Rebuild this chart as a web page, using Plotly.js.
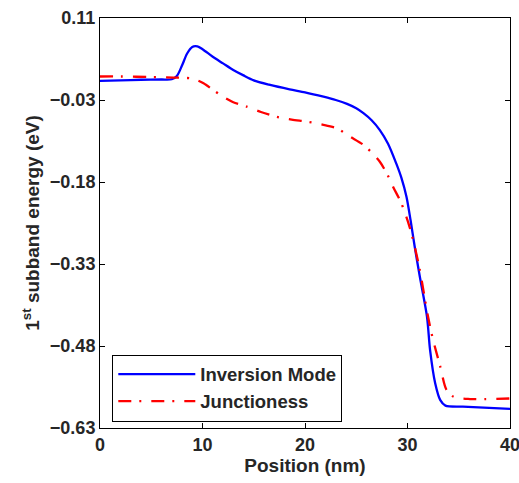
<!DOCTYPE html>
<html>
<head>
<meta charset="utf-8">
<script src="https://cdn.plot.ly/plotly-3.0.1.min.js"></script>
<style>html,body{margin:0;padding:0;background:#fff;}#chart{width:519px;height:483px;}</style>
</head>
<body>
<div id="chart"></div>
<script>
var inversionX = [0, 2, 4, 6, 7, 7.5, 8.0, 8.5, 9.0, 9.5, 10, 11, 12, 13, 14, 15, 16.5, 18.5, 20, 21.8, 23, 24.1, 25, 25.7, 26.5, 27.3, 28.1, 28.9, 29.4, 29.9, 30.3, 30.7, 31.2, 31.9, 32.2, 32.7, 33.2, 33.7, 35.4, 40];
var inversionY = [0.005, 0.006, 0.007, 0.0075, 0.008, 0.014, 0.033, 0.055, 0.067, 0.068, 0.063, 0.049, 0.037, 0.025, 0.015, 0.006, -0.002, -0.0105, -0.016, -0.024, -0.030, -0.037, -0.045, -0.054, -0.067, -0.085, -0.11, -0.146, -0.172, -0.207, -0.25, -0.298, -0.353, -0.426, -0.487, -0.548, -0.579, -0.589, -0.591, -0.595];
var junctionX = [0, 2, 5, 7.2, 8.8, 9.5, 10.1, 11, 12, 13, 14.3, 15.7, 17.2, 18.7, 20.2, 21.7, 23.1, 24.4, 25.7, 26.5, 27.3, 28.0, 28.6, 29.4, 30.2, 30.7, 31.2, 32.0, 32.5, 33.2, 33.8, 34.5, 36.1, 40];
var junctionY = [0.013, 0.013, 0.012, 0.011, 0.0097, 0.006, 0.0006, -0.011, -0.024, -0.034, -0.042, -0.052, -0.0605, -0.066, -0.0697, -0.075, -0.0818, -0.097, -0.112, -0.126, -0.143, -0.165, -0.189, -0.219, -0.262, -0.298, -0.341, -0.426, -0.469, -0.518, -0.560, -0.573, -0.577, -0.576];
var seriesNames = ["Inversion Mode", "Junctioness"];
var xTickVals = [0, 10, 20, 30, 40];
var yTickVals = [-0.63, -0.48, -0.33, -0.18, -0.03, 0.12];
var yTickText = ["\u22120.63", "\u22120.48", "\u22120.33", "\u22120.18", "\u22120.03", "0.11"];

var fontFam = "Liberation Sans, Arial, Helvetica, sans-serif";
var traces = [
  {x: inversionX, y: inversionY, name: seriesNames[0], mode: "lines",
   line: {color: "#0000ff", width: 2.3, shape: "spline", smoothing: 0.8}},
  {x: junctionX, y: junctionY, name: seriesNames[1], mode: "lines",
   line: {color: "#ff0000", width: 2.3, dash: "13px,8px,2px,10px", shape: "spline", smoothing: 0.8}}
];
var axisCommon = {
  showgrid: false, zeroline: false, showline: true, linecolor: "#000", linewidth: 1,
  mirror: "ticks", ticks: "inside", ticklen: 5, tickcolor: "#000", tickwidth: 1,
  ticklabeloverflow: "allow",
  tickfont: {family: fontFam, size: 18, color: "#262626", weight: "bold"}
};
var layout = {
  width: 519, height: 483,
  margin: {l: 100, r: 9, t: 18, b: 55},
  paper_bgcolor: "#fff", plot_bgcolor: "#fff",
  showlegend: true,
  legend: {x: 0.03, y: 0.179, xanchor: "left", yanchor: "top",
           bordercolor: "#000", borderwidth: 1, bgcolor: "#fff",
           itemwidth: 77, tracegroupgap: 0,
           font: {family: fontFam, size: 18.5, color: "#262626", weight: "bold"}},
  xaxis: Object.assign({}, axisCommon, {
    range: [0, 40], tickvals: xTickVals, ticktext: xTickVals.map(String),
    title: {text: "Position (nm)", standoff: 4, font: {family: fontFam, size: 19, color: "#262626", weight: "bold"}}
  }),
  yaxis: Object.assign({}, axisCommon, {
    range: [-0.63, 0.12], tickvals: yTickVals, ticktext: yTickText,
    title: {text: "1<sup>st</sup> subband energy (eV)", standoff: 5, font: {family: fontFam, size: 19, color: "#262626", weight: "bold"}}
  })
};
Plotly.newPlot("chart", traces, layout, {displayModeBar: false, staticPlot: true});
</script>
</body>
</html>
